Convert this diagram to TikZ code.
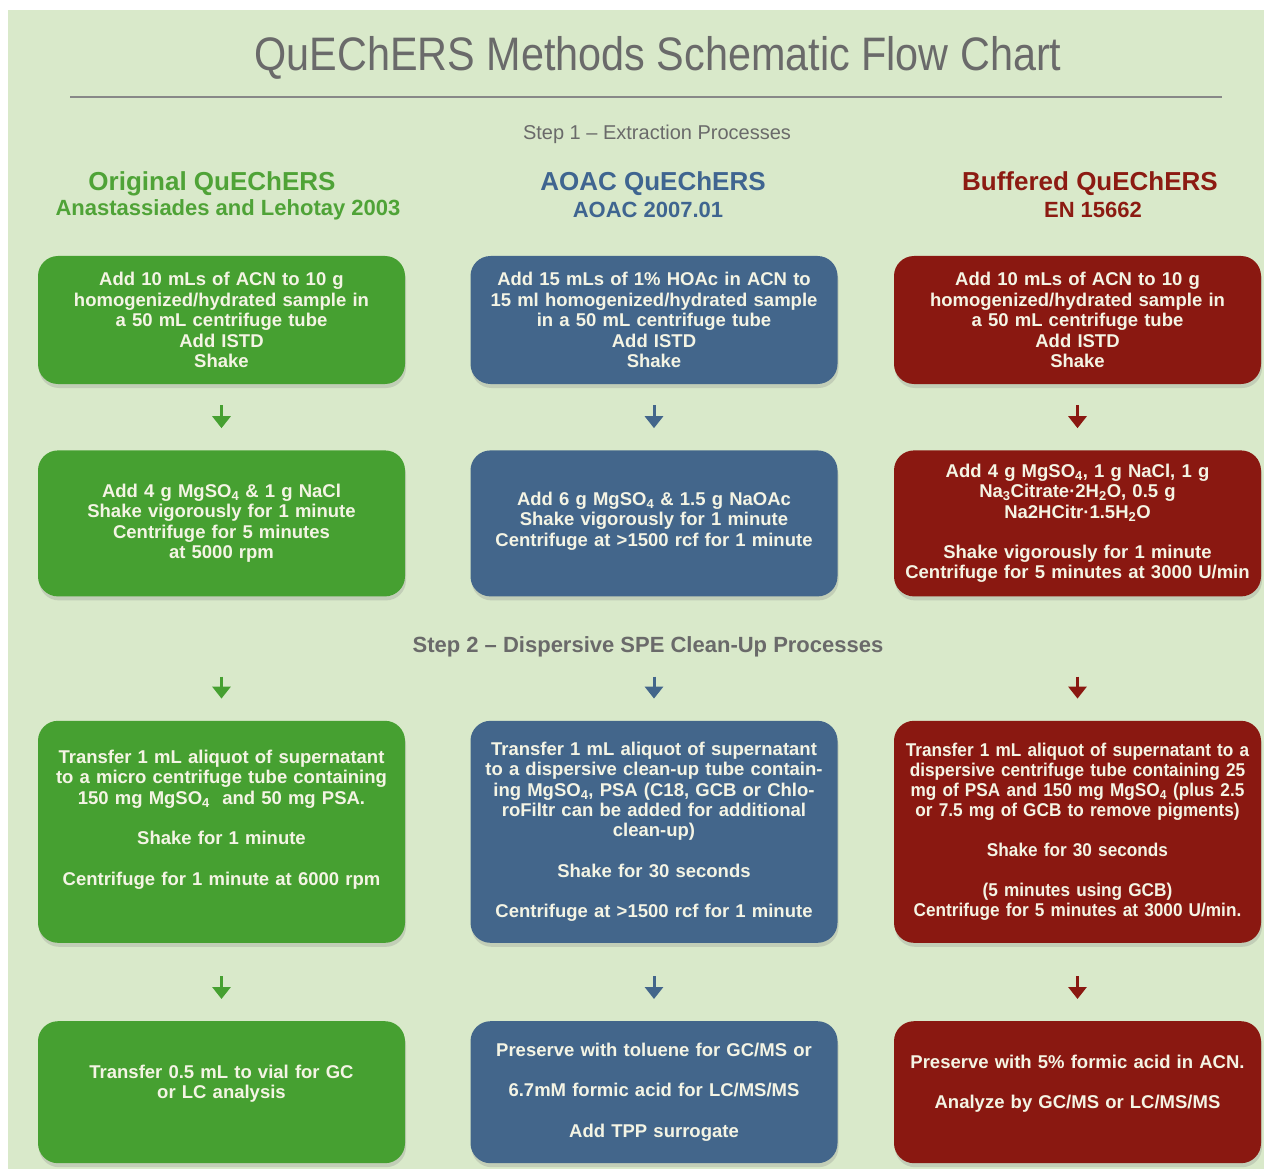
\documentclass[tikz,border=0pt]{standalone}
\usepackage{fontspec}
\setmainfont{Liberation Sans}
\newfontfamily\titlefont[FakeStretch=0.88]{Liberation Sans}
\newfontfamily\tightfont[FakeStretch=0.93]{Liberation Sans}
\usetikzlibrary{arrows.meta,positioning,shadows}
\definecolor{pale}{HTML}{D9E9CA}
\definecolor{leafbox}{HTML}{46A031}
\definecolor{slate}{HTML}{43668B}
\definecolor{wine}{HTML}{8A1811}
\definecolor{leafhd}{HTML}{4FA337}
\definecolor{slatehd}{HTML}{3F6590}
\definecolor{winehd}{HTML}{8C1B12}
\definecolor{cream}{HTML}{F4F4E4}
\definecolor{stone}{HTML}{6A6A6A}

\begin{document}
\begin{tikzpicture}[x=1pt,y=-1pt,
  n/.style={rounded corners=20pt,inner xsep=8.5pt,inner ysep=0pt,text width=350pt,align=center,
    text=cream,font=\bfseries\fontsize{18.5}{20.4}\selectfont,
    drop shadow={shadow xshift=1pt,shadow yshift=-4pt,opacity=0.25}},
  hd/.style={font=\bfseries\fontsize{26}{28}\selectfont,inner sep=0pt},
  sub/.style={font=\bfseries\fontsize{22}{24}\selectfont,inner sep=0pt},
  a/.style={-{Triangle[width=18pt,length=12pt]},line width=3pt,shorten >=22pt}]
 \fill[white] (0,0) rectangle (1264,1169);
 \fill[pale] (8,10) rectangle (1264,1169);
 \useasboundingbox (0,0) rectangle (1264,1169);
 % title and step labels
 \node[text=stone,font=\titlefont\fontsize{47}{50}\selectfont,inner sep=0pt] (title) at (658,58) {QuEChERS Methods Schematic Flow Chart};
 \draw[stone!80,line width=2pt] (70,97) -- (1222,97);
 \node[text=stone,font=\fontsize{20}{22}\selectfont,inner sep=0pt] (step1) at (657,134) {Step 1 -- Extraction Processes};
 \node[text=stone,font=\bfseries\fontsize{22}{24}\selectfont,inner sep=0pt] (step2) at (648,647) {Step 2 -- Dispersive SPE Clean-Up Processes};
 % column heads
 \node[hd,text=leafhd]  (h1) at (212,184)  {Original QuEChERS};
 \node[sub,text=leafhd] (s1) at (228,210)  {Anastassiades and Lehotay 2003};
 \node[hd,text=slatehd]  (h2) at (653,184) {AOAC QuEChERS};
 \node[sub,text=slatehd] (s2) at (648,210) {AOAC 2007.01};
 \node[hd,text=winehd]  (h3) at (1090,184) {Buffered QuEChERS};
 \node[sub,text=winehd] (s3) at (1093,210) {EN 15662};
 % original
 \node[n,fill=leafbox,minimum height=128pt] (g1) at (221.5,320) {Add 10 mLs of ACN to 10 g\\homogenized/hydrated sample in\\a 50 mL centrifuge tube\\Add ISTD\\Shake};
 \node[n,fill=leafbox,minimum height=146pt,below=66pt of g1] (g2) {Add 4 g MgSO\textsubscript{4} \& 1 g NaCl\\Shake vigorously for 1 minute\\Centrifuge for 5 minutes\\at 5000 rpm};
 \node[n,fill=leafbox,minimum height=222pt,below=124pt of g2] (g3) {Transfer 1 mL aliquot of supernatant\\to a micro centrifuge tube containing\\150 mg MgSO\textsubscript{4}\ \ and 50 mg PSA.\\[20pt]Shake for 1 minute\\[20pt]Centrifuge for 1 minute at 6000 rpm\\[8pt]\mbox{}};
 \node[n,fill=leafbox,minimum height=142pt,below=78pt of g3] (g4) {Transfer 0.5 mL to vial for GC\\or LC analysis\\\mbox{}};
 % aoac
 \node[n,fill=slate,minimum height=128pt] (b1) at (654,320) {Add 15 mLs of 1\% HOAc in ACN to\\15 ml homogenized/hydrated sample\\in a 50 mL centrifuge tube\\Add ISTD\\Shake};
 \node[n,fill=slate,minimum height=146pt,below=66pt of b1] (b2) {Add 6 g MgSO\textsubscript{4} \& 1.5 g NaOAc\\Shake vigorously for 1 minute\\Centrifuge at >1500 rcf for 1 minute\\[-12pt]\mbox{}};
 \node[n,fill=slate,minimum height=222pt,below=124pt of b2] (b3) {Transfer 1 mL aliquot of supernatant\\to a dispersive clean-up tube contain-\\ing MgSO\textsubscript{4}, PSA (C18, GCB or Chlo-\\roFiltr can be added for additional\\clean-up)\\[20pt]Shake for 30 seconds\\[20pt]Centrifuge at >1500 rcf for 1 minute};
 \node[n,fill=slate,minimum height=142pt,below=78pt of b3] (b4) {Preserve with toluene for GC/MS or\\[20pt]6.7mM formic acid for LC/MS/MS\\[20pt]Add TPP surrogate};
 % buffered
 \node[n,fill=wine,minimum height=128pt] (r1) at (1077.5,320) {Add 10 mLs of ACN to 10 g\\homogenized/hydrated sample in\\a 50 mL centrifuge tube\\Add ISTD\\Shake};
 \node[n,fill=wine,minimum height=146pt,below=66pt of r1] (r2) {Add 4 g MgSO\textsubscript{4}, 1 g NaCl, 1 g\\Na\textsubscript{3}Citrate·2H\textsubscript{2}O, 0.5 g\\Na2HCitr·1.5H\textsubscript{2}O\\[20pt]Shake vigorously for 1 minute\\Centrifuge for 5 minutes at 3000 U/min};
 \node[n,fill=wine,minimum height=222pt,below=124pt of r2,font=\bfseries\tightfont\fontsize{18.5}{20}\selectfont] (r3) {Transfer 1 mL aliquot of supernatant to a\\dispersive centrifuge tube containing 25\\mg of PSA and 150 mg MgSO\textsubscript{4} (plus 2.5\\or 7.5 mg of GCB to remove pigments)\\[20pt]Shake for 30 seconds\\[20pt](5 minutes using GCB)\\Centrifuge for 5 minutes at 3000 U/min.};
 \node[n,fill=wine,minimum height=142pt,below=78pt of r3] (r4) {Preserve with 5\% formic acid in ACN.\\[20pt]Analyze by GC/MS or LC/MS/MS\\\mbox{}};
 % arrows
 \foreach \c/\col in {g/leafbox,b/slate,r/wine}{
   \draw[a,\col,shorten <=21pt] (\c1) -- (\c2);
   \draw[a,\col,shorten <=80pt] (\c2) -- (\c3);
   \draw[a,\col,shorten <=33pt] (\c3) -- (\c4);
 }
\end{tikzpicture}
\end{document}
